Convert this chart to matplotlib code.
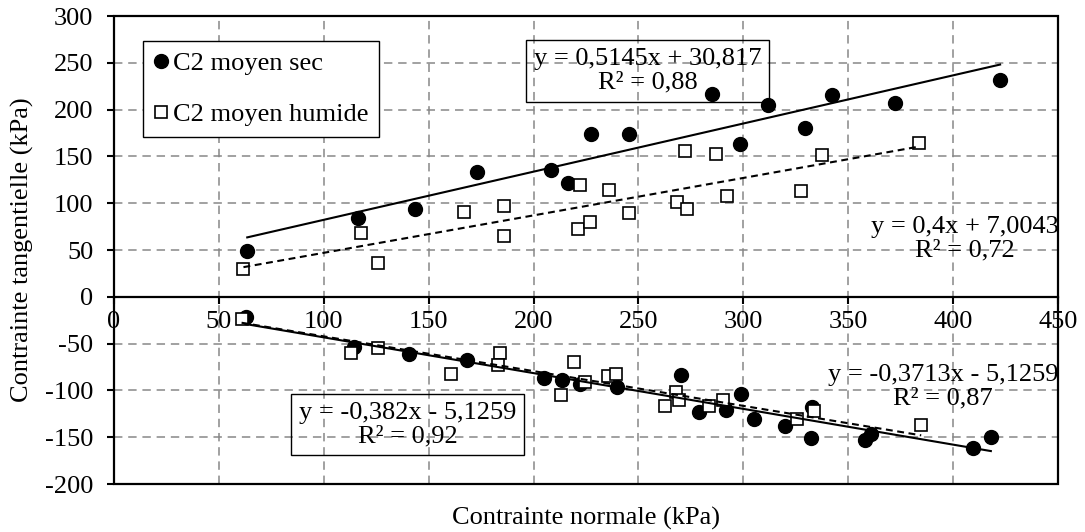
import matplotlib.pyplot as plt
from matplotlib.patches import Rectangle

plt.rcParams['font.family'] = ['Liberation Serif', 'DejaVu Serif']
plt.rcParams['axes.unicode_minus'] = False
plt.rcParams['font.size'] = 19

# contrainte tangentielle positive (haut)
sec_haut_x = [63.5, 116.4, 143.5, 172.9, 208.1, 216.4, 227.2, 245.5, 284.9, 298.3,
              311.6, 329.2, 342.4, 372.3, 422.4]
sec_haut_y = [48.8, 83.7, 93.7, 132.9, 135.7, 121.4, 173.9, 174.3, 217.1, 163.6,
              205.0, 180.4, 215.4, 207.1, 232.1]
hum_haut_x = [61.7, 117.7, 125.8, 167.0, 186.1, 186.1, 221.1, 222.3, 226.9, 235.9,
              245.5, 268.4, 272.1, 273.3, 287.0, 292.4, 327.7, 337.7, 383.7]
hum_haut_y = [29.2, 67.7, 35.6, 90.8, 96.9, 65.2, 72.5, 119.6, 79.6, 114.3,
              89.3, 101.1, 155.4, 93.9, 152.5, 108.2, 113.2, 151.8, 164.3]

# contrainte tangentielle negative (bas)
sec_bas_x = [62.7, 114.3, 140.5, 168.3, 205.1, 213.5, 222.1, 240.0, 270.1, 278.8,
             291.8, 299.1, 305.0, 320.0, 332.7, 332.1, 358.0, 360.8, 409.7, 418.0]
sec_bas_y = [-21.4, -53.9, -61.0, -67.1, -86.8, -89.3, -92.9, -96.8, -83.2, -123.2,
             -121.4, -103.6, -130.7, -137.9, -118.2, -150.7, -152.5, -146.4, -161.1, -150.0]
hum_bas_x = [60.8, 113.0, 125.7, 160.6, 184.1, 183.0, 213.0, 219.5, 224.6, 235.3,
             239.5, 268.1, 269.3, 262.7, 283.6, 290.4, 325.6, 333.5, 384.8]
hum_bas_y = [-23.6, -60.0, -54.6, -82.1, -60.0, -73.2, -104.6, -69.8, -91.4, -85.0,
             -82.1, -102.1, -110.7, -117.1, -117.1, -110.7, -130.7, -122.5, -136.8]

# courbes de tendance (pente, ordonnee)
tend_sec_haut = (0.5145, 30.817)
tend_hum_haut = (0.4, 7.0043)
tend_sec_bas = (-0.382, -5.1259)
tend_hum_bas = (-0.3713, -5.1259)

eq_sec_haut = "y = 0,5145x + 30,817\nR² = 0,88"
eq_hum_haut = "y = 0,4x + 7,0043\nR² = 0,72"
eq_sec_bas = "y = -0,382x - 5,1259\nR² = 0,92"
eq_hum_bas = "y = -0,3713x - 5,1259\nR² = 0,87"

fig = plt.figure(figsize=(10.85, 5.32), dpi=100)
ax = fig.add_axes([0.1051, 0.0902, 0.8700, 0.8797])
ax.set_xlim(0, 450)
ax.set_ylim(-200, 300)
ax.set_xticks(range(0, 451, 50))
ax.set_yticks(range(-200, 301, 50))
ax.grid(True, color='#878787', linestyle=(0, (5.5, 3.8)), lw=1.1)
ax.set_axisbelow(True)

for s in ['top', 'right', 'left']:
    ax.spines[s].set_visible(False)
ax.spines['bottom'].set_position(('data', 0))
ax.spines['bottom'].set_linewidth(1.6)
ax.add_patch(Rectangle((0, 0), 1, 1, transform=ax.transAxes, fill=False,
                       lw=1.6, ec='black', clip_on=False, zorder=5))
ax.tick_params(axis='x', direction='out', length=5, width=1.5, pad=5)
ax.tick_params(axis='y', direction='out', length=5, width=1.5, pad=10)

def points(xs, ys, sec, label=None):
    if sec:
        ax.plot(xs, ys, ls='none', marker='o', ms=10, mfc='black', mec='black',
                zorder=3, label=label)
    else:
        ax.plot(xs, ys, ls='none', marker='s', ms=9.3, mfc='white', mec='black',
                mew=1.2, zorder=3, label=label)

def tendance(xs, coef, ls):
    a, b = coef
    x0, x1 = min(xs), max(xs)
    ax.plot([x0, x1], [a * x0 + b, a * x1 + b], color='black', lw=1.5, ls=ls, zorder=4)

points(sec_haut_x, sec_haut_y, True, 'C2 moyen sec')
points(hum_haut_x, hum_haut_y, False, 'C2 moyen humide')
points(sec_bas_x, sec_bas_y, True)
points(hum_bas_x, hum_bas_y, False)

tendance(sec_haut_x, tend_sec_haut, '-')
tendance(hum_haut_x, tend_hum_haut, (0, (3.3, 2.2)))
tendance(sec_bas_x, tend_sec_bas, '-')
tendance(hum_bas_x, tend_hum_bas, (0, (3.3, 2.2)))

boite = dict(boxstyle='square,pad=0.3', fc='none', ec='black', lw=1.0)
ax.text(254.4, 241.2, eq_sec_haut, ha='center', va='center', linespacing=1.1,
        bbox=boite, zorder=6)
ax.text(405.7, 61.8, eq_hum_haut, ha='center', va='center', linespacing=1.1, zorder=6)
ax.text(139.9, -136.6, eq_sec_bas, ha='center', va='center', linespacing=1.1,
        bbox=boite, zorder=6)
ax.text(395.1, -96.0, eq_hum_bas, ha='center', va='center', linespacing=1.1, zorder=6)

leg = ax.legend(loc='upper left', bbox_to_anchor=(0.0307, 0.9466), fancybox=False,
                edgecolor='black', framealpha=1, handlelength=0.6, handletextpad=0.15,
                borderpad=0.4, labelspacing=1.05, borderaxespad=0)
leg.get_frame().set_linewidth(1.0)

fig.text(586 / 1085, 1 - 518 / 532, 'Contrainte normale (kPa)', ha='center', va='center')
fig.text(22 / 1085, 1 - 250 / 532, 'Contrainte tangentielle (kPa)', ha='center',
         va='center', rotation=90)

fig.savefig('out.png', dpi=100)
